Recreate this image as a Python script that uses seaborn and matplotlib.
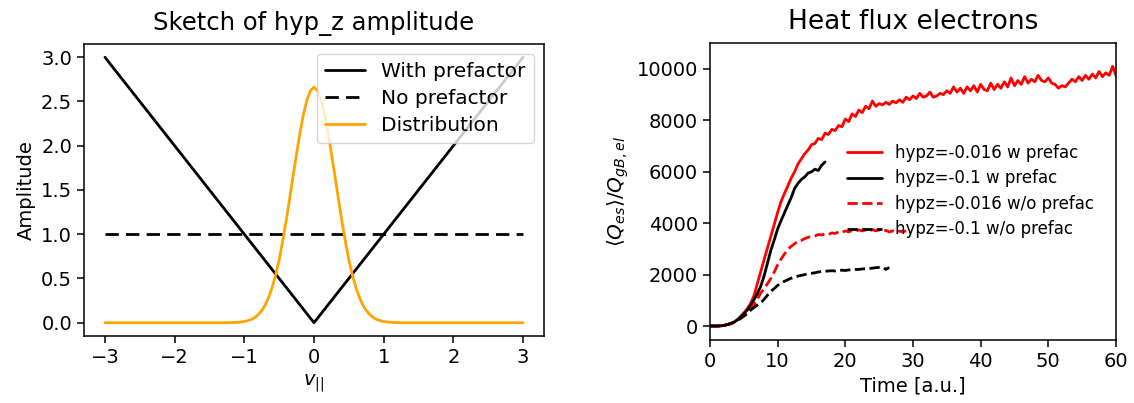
import numpy as np
import matplotlib
matplotlib.use("Agg")
import matplotlib.pyplot as plt
import seaborn as sns

# ---------------- Left panel data ----------------
v_line = [-3.0, 0.0, 3.0]
amp_with_prefactor = [3.0, 0.0, 3.0]
v_flat = [-3.0, 3.0]
amp_no_prefactor = [1.0, 1.0]

v_dist = [-3.0, -1.3, -1.25, -1.2, -1.15, -1.1, -1.05, -1.0, -0.95, -0.9, -0.85, -0.8,
          -0.75, -0.7, -0.65, -0.6, -0.55, -0.5, -0.45, -0.4, -0.35, -0.3, -0.25,
          -0.2, -0.15, -0.1, -0.05, 0.0, 0.05, 0.1, 0.15, 0.2, 0.25, 0.3, 0.35,
          0.4, 0.45, 0.5, 0.55, 0.6, 0.65, 0.7, 0.75, 0.8, 0.85, 0.9, 0.95, 1.0,
          1.05, 1.1, 1.15, 1.2, 1.25, 1.3, 3.0]
amp_dist = [0.0, 0.0, 0.0006, 0.0013, 0.0025, 0.005, 0.008, 0.014, 0.023, 0.037, 0.059, 0.092,
            0.138, 0.20, 0.29, 0.40, 0.54, 0.71, 0.92, 1.15, 1.40, 1.66, 1.91,
            2.15, 2.36, 2.52, 2.625, 2.66, 2.625, 2.52, 2.36, 2.15, 1.91, 1.66, 1.40,
            1.15, 0.92, 0.71, 0.54, 0.40, 0.29, 0.20, 0.138, 0.092, 0.059, 0.037, 0.023, 0.014,
            0.008, 0.005, 0.0025, 0.0013, 0.0006, 0.0, 0.0]

# ---------------- Right panel data (sampled every 0.5 a.u.) ----------------
dt = 0.5
q_016_w = [0, 0, 0, 5, 20, 50, 90, 140, 230, 360, 510, 660, 880, 1180, 1650, 2120,
           2590, 3040, 3500, 3960, 4420, 4840, 5150, 5450, 5750, 6000, 6300, 6500,
           6700, 6850, 7050, 7100, 7300, 7250, 7500, 7450, 7650, 7600, 7800, 7750,
           8050, 7950, 8250, 8150, 8400, 8300, 8550, 8450, 8750, 8550, 8650, 8600,
           8700, 8620, 8750, 8680, 8800, 8700, 8900, 8800, 8950, 8850, 9050, 8900,
           8950, 9100, 8900, 8950, 9050, 9000, 9150, 9050, 9300, 9100, 9250, 9050,
           9300, 9150, 9350, 9100, 9400, 9200, 9150, 9450, 9200, 9400, 9250, 9500,
           9300, 9650, 9350, 9550, 9400, 9700, 9450, 9600, 9500, 9750, 9550, 9500,
           9650, 9450, 9400, 9250, 9350, 9300, 9450, 9600, 9500, 9700, 9550, 9750,
           9600, 9800, 9650, 9900, 9700, 9850, 9750, 10100, 9750]
q_01_w = [0, 0, 0, 5, 20, 50, 90, 140, 230, 350, 480, 620, 800, 1020, 1260, 1550,
          1950, 2450, 2950, 3350, 3780, 4100, 4400, 4700, 5000, 5350, 5550, 5700,
          5800, 5950, 6000, 6100, 6050, 6250, 6380]
q_016_wo = [0, 0, 0, 5, 20, 50, 90, 140, 220, 300, 380, 480, 620, 820, 1050, 1280,
            1450, 1650, 1850, 2100, 2380, 2600, 2800, 2980, 3100, 3200, 3300, 3330,
            3400, 3450, 3480, 3500, 3560, 3540, 3580, 3560, 3620, 3600, 3660, 3640,
            3700, 3660, 3720, 3680, 3740, 3700, 3730, 3690, 3750, 3700, 3740, 3690,
            3720, 3660, 3700, 3650, 3690, 3670, 3700]
q_01_wo = [0, 0, 0, 5, 20, 50, 90, 140, 210, 290, 390, 500, 620, 720, 810, 900,
           1040, 1200, 1350, 1460, 1580, 1660, 1740, 1800, 1860, 1900, 1940, 1970,
           2000, 2030, 2050, 2070, 2100, 2120, 2130, 2140, 2150, 2140, 2160, 2170,
           2160, 2180, 2190, 2200, 2200, 2220, 2230, 2240, 2250, 2270, 2280, 2290,
           2200, 2280]

labels_right = ["hypz=-0.016 w prefac", "hypz=-0.1 w prefac",
                "hypz=-0.016 w/o prefac", "hypz=-0.1 w/o prefac"]

sns.set_style("ticks")
plt.rcParams.update({
    "font.family": ["DejaVu Sans"],
    "axes.edgecolor": "black",
    "xtick.color": "black",
    "ytick.color": "black",
    "text.color": "black",
    "axes.labelcolor": "black",
    "xtick.direction": "out",
    "ytick.direction": "out",
})

fig = plt.figure(figsize=(11.34, 4.03), dpi=100)

# ---------- left ----------
axL = fig.add_axes([0.0741, 0.1663, 0.4056, 0.7246])
sns.lineplot(x=v_line, y=amp_with_prefactor, ax=axL, color="black", lw=2.0,
             label="With prefactor", estimator=None, sort=False)
sns.lineplot(x=v_flat, y=amp_no_prefactor, ax=axL, color="black", lw=2.0,
             dashes=False, label="No prefactor", estimator=None, sort=False)
axL.lines[-1].set_dashes((4.8, 2.6))
sns.lineplot(x=v_dist, y=amp_dist, ax=axL, color="orange", lw=2.0,
             label="Distribution", estimator=None, sort=False)
axL.set_xlim(-3.3, 3.3)
axL.set_ylim(-0.15, 3.15)
axL.set_xticks([-3, -2, -1, 0, 1, 2, 3])
axL.set_yticks([0.0, 0.5, 1.0, 1.5, 2.0, 2.5, 3.0])
axL.tick_params(labelsize=14, length=5, width=1.1)
axL.set_title("Sketch of hyp_z amplitude", fontsize=17.5, pad=10)
axL.set_xlabel(r"$v_{||}$", fontsize=14)
axL.set_ylabel("Amplitude", fontsize=14)
axL.legend(loc="upper right", fontsize=14.5, frameon=True, framealpha=0.8,
           edgecolor="0.8", fancybox=True, labelspacing=0.4)
for s in axL.spines.values():
    s.set_linewidth(1.1)

# ---------- right ----------
axR = fig.add_axes([0.6261, 0.1563, 0.358, 0.7377])
series = [(q_016_w, "red", "-"), (q_01_w, "black", "-"),
          (q_016_wo, "red", "--"), (q_01_wo, "black", "--")]
for (vals, col, ls), lab in zip(series, labels_right):
    t = np.arange(len(vals)) * dt
    sns.lineplot(x=t, y=vals, ax=axR, color=col, linestyle=ls, lw=2.0,
                 label=lab, estimator=None, sort=False)
axR.set_xlim(0, 60)
axR.set_ylim(-545, 11020)
axR.set_xticks([0, 10, 20, 30, 40, 50, 60])
axR.set_yticks([0, 2000, 4000, 6000, 8000, 10000])
axR.tick_params(labelsize=14, length=5, width=1.1)
axR.set_title("Heat flux electrons", fontsize=19, pad=10)
axR.set_xlabel("Time [a.u.]", fontsize=14)
axR.set_ylabel(r"$\langle Q_{es}\rangle/Q_{gB,el}$", fontsize=14.5)
axR.legend(loc="upper left", bbox_to_anchor=(0.3, 0.71), frameon=False,
           fontsize=12, labelspacing=0.45, handlelength=2.1)
for s in axR.spines.values():
    s.set_linewidth(1.1)

fig.savefig("out.png", dpi=100)
